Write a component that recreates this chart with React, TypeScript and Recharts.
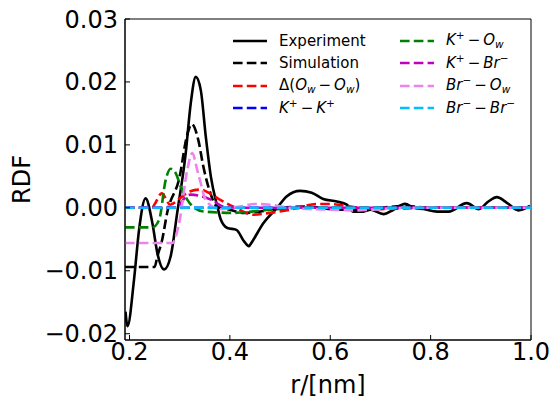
import React from "react";
import {
  LineChart,
  Line,
  XAxis,
  YAxis,
  ReferenceArea,
} from "recharts";

// r in nm, g = RDF difference
const experimentR = [0.192, 0.196, 0.209, 0.219, 0.232, 0.2455, 0.2555, 0.269, 0.282, 0.295, 0.312, 0.322, 0.332, 0.342, 0.352, 0.362, 0.375, 0.382, 0.395, 0.413, 0.428, 0.438, 0.44, 0.467, 0.494, 0.513, 0.54, 0.563, 0.586, 0.613, 0.633, 0.646, 0.666, 0.68, 0.706, 0.726, 0.749, 0.766, 0.786, 0.813, 0.836, 0.872, 0.896, 0.915, 0.932, 0.952, 0.975, 0.998];
const experimentG = [-0.0165, -0.0188, -0.0114, -0.0035, 0.0015, -0.0024, -0.0072, -0.0098, -0.0077, -0.0008, 0.0087, 0.0166, 0.0208, 0.0187, 0.0113, 0.005, 0.0002, -0.0019, -0.0032, -0.0035, -0.0053, -0.0061, -0.0059, -0.0024, 0.0, 0.0018, 0.0027, 0.0024, 0.0014, 0.001, 0.0005, -0.0006, -0.0006, -0.0003, -0.001, -0.0003, 0.00063, 0.0, -0.0002, -0.0006, -0.0006, 0.00075, -0.0002, 0.001, 0.0017, 0.0008, -0.0004, 0.0003];

const simulationR = [0.191, 0.25, 0.2555, 0.265, 0.275, 0.3, 0.314, 0.324, 0.337, 0.347, 0.36, 0.374, 0.4, 0.427, 0.46, 0.5, 0.55, 0.62, 0.66, 0.7, 0.75, 0.8, 0.9, 1.0];
const simulationG = [-0.0094, -0.0094, -0.0077, -0.0051, -0.0008, 0.005, 0.0113, 0.0133, 0.0108, 0.0066, 0.0026, 0.0002, -0.0003, -0.0008, -0.0006, 0.0, 0.0002, -0.0003, -0.0003, 0.0, 0.0003, 0.0, 0.0, 0.0];

const owOwR = [0.191, 0.245, 0.251, 0.264, 0.281, 0.3, 0.32, 0.341, 0.36, 0.38, 0.407, 0.447, 0.48, 0.52, 0.573, 0.6, 0.65, 0.7, 0.8, 1.0];
const owOwG = [0.0, 0.0, 0.0007, 0.0023, 0.0005, 0.0015, 0.0026, 0.0029, 0.0023, 0.0013, 0.0002, -0.0011, -0.0008, -0.0003, 0.0006, 0.0006, 0.0001, -0.0002, 0.0, 0.0];

const kkR = [0.191, 1.0];
const kkG = [0.0, 0.0];

const kOwR = [0.191, 0.2455, 0.259, 0.272, 0.282, 0.292, 0.302, 0.315, 0.329, 0.349, 0.408, 0.48, 0.55, 1.0];
const kOwG = [-0.0031, -0.0031, -0.0019, 0.0044, 0.0062, 0.0055, 0.0034, 0.0013, 0.0, -0.0006, -0.0008, -0.0003, 0.0, 0.0];

const kBrR = [0.191, 0.29, 0.302, 0.31, 0.322, 0.34, 0.362, 0.388, 0.42, 1.0];
const kBrG = [0.0, 0.0, 0.0007, 0.0016, 0.0021, 0.0019, 0.0013, 0.0002, 0.0, 0.0];

const brOwR = [0.191, 0.285, 0.299, 0.315, 0.325, 0.335, 0.342, 0.349, 0.36, 0.38, 0.42, 0.45, 0.48, 0.52, 0.6, 0.65, 0.7, 0.75, 1.0];
const brOwG = [-0.0056, -0.0056, -0.0024, 0.006, 0.0087, 0.006, 0.0039, 0.0018, 0.0005, -0.0002, 0.0002, 0.0006, 0.0005, 0.0, -0.0003, -0.0004, -0.0002, 0.0, 0.0];

const brBrR = [0.191, 1.0];
const brBrG = [0.0, 0.0];

const xTicks = [0.2, 0.4, 0.6, 0.8, 1.0];
const yTicks = [-0.02, -0.01, 0.0, 0.01, 0.02, 0.03];

const FONT = "DejaVu Sans, sans-serif";
const LW = 2.6;
const DASH = "9.6 4.2";

const toPoints = (r: number[], g: number[]) => r.map((x, i) => ({ r: x, g: g[i] }));

const SERIES = [
  { key: "exp", r: experimentR, g: experimentG, color: "#000000", dashed: false },
  { key: "sim", r: simulationR, g: simulationG, color: "#000000", dashed: true },
  { key: "owow", r: owOwR, g: owOwG, color: "#ff0000", dashed: true },
  { key: "kk", r: kkR, g: kkG, color: "#0000ff", dashed: true },
  { key: "kow", r: kOwR, g: kOwG, color: "#008000", dashed: true },
  { key: "kbr", r: kBrR, g: kBrG, color: "#bf00bf", dashed: true },
  { key: "brow", r: brOwR, g: brOwG, color: "#ee82ee", dashed: true },
  { key: "brbr", r: brBrR, g: brBrG, color: "#00bfff", dashed: true },
];

const It = ({ children }: { children: React.ReactNode }) => (
  <span style={{ fontStyle: "italic" }}>{children}</span>
);
const Sup = ({ children }: { children: React.ReactNode }) => (
  <span style={{ fontSize: "0.7em", position: "relative", top: "-0.55em" }}>{children}</span>
);
const Sub = ({ children }: { children: React.ReactNode }) => (
  <span style={{ fontSize: "0.7em", fontStyle: "italic", position: "relative", top: "0.3em" }}>{children}</span>
);
const Minus = () => <span style={{ margin: "0 3px" }}>{"\u2212"}</span>;

const LABELS: Record<string, React.ReactNode> = {
  exp: "Experiment",
  sim: "Simulation",
  owow: (
    <>
      {"\u0394("}<It>O</It><Sub>w</Sub><Minus /><It>O</It><Sub>w</Sub>{")"}
    </>
  ),
  kk: (
    <>
      <It>K</It><Sup>+</Sup><Minus /><It>K</It><Sup>+</Sup>
    </>
  ),
  kow: (
    <>
      <It>K</It><Sup>+</Sup><Minus /><It>O</It><Sub>w</Sub>
    </>
  ),
  kbr: (
    <>
      <It>K</It><Sup>+</Sup><Minus /><It>Br</It><Sup>{"\u2212"}</Sup>
    </>
  ),
  brow: (
    <>
      <It>Br</It><Sup>{"\u2212"}</Sup><Minus /><It>O</It><Sub>w</Sub>
    </>
  ),
  brbr: (
    <>
      <It>Br</It><Sup>{"\u2212"}</Sup><Minus /><It>Br</It><Sup>{"\u2212"}</Sup>
    </>
  ),
};

const LegendItem = ({ item }: { item: (typeof SERIES)[number] }) => (
  <div style={{ display: "flex", alignItems: "center", height: 22.5, whiteSpace: "nowrap" }}>
    <svg width={34} height={6} style={{ marginRight: 12 }}>
      <line
        x1={0}
        y1={3}
        x2={34}
        y2={3}
        stroke={item.color}
        strokeWidth={LW}
        strokeDasharray={item.dashed ? DASH : undefined}
      />
    </svg>
    <span>{LABELS[item.key]}</span>
  </div>
);

// legend sits in the upper right of the plot, two columns
const ChartLegend = () => (
  <div
    style={{
      position: "absolute",
      top: 29.5,
      left: 233,
      display: "flex",
      fontFamily: FONT,
      fontSize: 15,
      color: "#000",
      lineHeight: "22.5px",
    }}
  >
    <div style={{ width: 167 }}>
      {SERIES.slice(0, 4).map((s) => (
        <LegendItem key={s.key} item={s} />
      ))}
    </div>
    <div>
      {SERIES.slice(4).map((s) => (
        <LegendItem key={s.key} item={s} />
      ))}
    </div>
  </div>
);

const fmtY = (v: number) => (v < 0 ? "\u2212" : "") + Math.abs(v).toFixed(2);

export default function App() {
  return (
    <div style={{ position: "absolute", left: 0, top: 0, width: 553, height: 399, background: "#fff" }}>
      <LineChart width={553} height={399} margin={{ top: 19, right: 22, left: 0, bottom: 0 }}>
        <XAxis
          type="number"
          dataKey="r"
          domain={[0.191, 1.0]}
          ticks={xTicks}
          allowDataOverflow
          tickFormatter={(v: number) => v.toFixed(1)}
          height={59}
          stroke="#000"
          tickSize={-5}
          tickMargin={8}
          tick={{ fill: "#000", fontSize: 24, fontFamily: FONT }}
          label={{ value: "r/[nm]", position: "insideBottom", offset: 6, fill: "#000", fontSize: 24, fontFamily: FONT }}
        />
        <YAxis
          type="number"
          domain={[-0.021, 0.03]}
          ticks={yTicks}
          allowDataOverflow
          tickFormatter={fmtY}
          width={125}
          stroke="#000"
          tickSize={-5}
          tickMargin={12}
          tick={{ fill: "#000", fontSize: 24, fontFamily: FONT }}
          label={{
            value: "RDF",
            angle: -90,
            position: "insideLeft",
            offset: 21,
            fill: "#000",
            fontSize: 24,
            fontFamily: FONT,
            style: { textAnchor: "middle" },
          }}
        />
        <ReferenceArea
          x1={0.191}
          x2={1.0}
          y1={-0.021}
          y2={0.03}
          fill="none"
          stroke="#000"
          strokeWidth={1}
          ifOverflow="visible"
        />
        {SERIES.map((s) => (
          <Line
            key={s.key}
            data={toPoints(s.r, s.g)}
            dataKey="g"
            type="monotone"
            stroke={s.color}
            strokeWidth={LW}
            strokeDasharray={s.dashed ? DASH : undefined}
            dot={false}
            activeDot={false}
            isAnimationActive={false}
          />
        ))}
      </LineChart>
      <ChartLegend />
    </div>
  );
}
